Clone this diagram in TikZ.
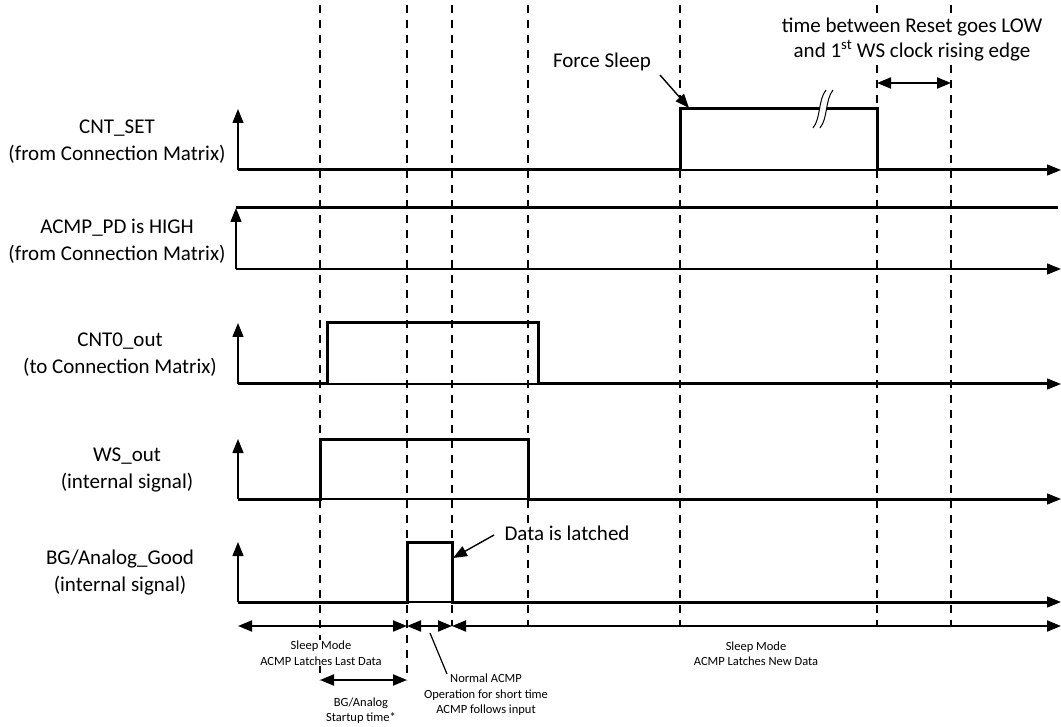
\documentclass[tikz,border=0pt]{standalone}
\usepackage{fontspec}
\setmainfont{Carlito}
\usetikzlibrary{arrows.meta}
\begin{document}
\begin{tikzpicture}[x=1pt,y=-1pt,
  tip/.style={-{Triangle[length=14pt,width=11pt]}},
  sig/.style={line width=3pt, line join=miter},
  axisline/.style={line width=1.4pt, tip},
  guide/.style={line width=2.4pt, dash pattern=on 8pt off 7pt},
  span/.style={line width=2pt,{Triangle[length=14pt,width=11pt]}-{Triangle[length=14pt,width=11pt]}},
  lbl/.style={align=center, font=\fontsize{21}{27}\selectfont, inner sep=0pt},
  note/.style={align=center, font=\fontsize{21}{25}\selectfont, fill=white, inner xsep=2pt, inner ysep=3pt},
  small/.style={align=center, font=\fontsize{12.5}{15.5}\selectfont, fill=white, inner sep=1pt},
  lead/.style={line width=1.4pt, tip},
]
\useasboundingbox (0,0) rectangle (1061,727);

% guide coordinates
\foreach \n/\x/\b in {g1/320/680, g2/407/680, g3/452/626, g4/528/626, g5/680/626, g6/877/626, g7/951/626} {
  \coordinate (\n top) at (\x,5);
  \coordinate (\n bot) at (\x,\b);
  \draw[guide] (\n top) -- (\n bot);
}

% text boxes over guides
\node[note] (tnote) at (912,39.5) {time between Reset goes LOW\\and 1\textsuperscript{st} WS clock rising edge};
\node[small] (sleepA) at (321,653) {Sleep Mode\\ACMP Latches Last Data};
\node[small] (sleepB) at (756,653.5) {Sleep Mode\\ACMP Latches New Data};
\node[small] (startup) at (361,710.5) {BG/Analog\\Startup time*};
\node[small, fill=none] (normal) at (486,695) {Normal ACMP\\Operation for short time\\ACMP follows input};

% signal labels
\node[lbl] (l1) at (117,141.5) {CNT\_SET\\(from Connection Matrix)};
\node[lbl] (l2) at (117,241.5) {ACMP\_PD is HIGH\\(from Connection Matrix)};
\node[lbl] (l3) at (120,354.5) {CNT0\_out\\(to Connection Matrix)};
\node[lbl] (l4) at (127,469.5) {WS\_out\\(internal signal)};
\node[lbl] (l5) at (120,573) {BG/Analog\_Good\\(internal signal)};

% CNT_SET
\coordinate (a1o) at (238,170); \coordinate (a1e) at (1061,170); \coordinate (a1y) at (238,109);
\draw[axisline] (a1o) -- (a1e);
\draw[axisline] (a1o) -- (a1y);
\draw[sig] (238,170) -- (680,170) -- (680,109) -- (877,109) -- (877,170) -- (1049,170);
% break mark
\fill[white] (813,128) .. controls (821,118) and (818,100) .. (826,90) -- (833,90) .. controls (825,100) and (828,118) .. (820,128) -- cycle;
\draw[line width=1pt] (813,128) .. controls (821,118) and (818,100) .. (826,90);
\draw[line width=1pt] (820,128) .. controls (828,118) and (825,100) .. (833,90);

% ACMP_PD
\coordinate (a2o) at (236,269); \coordinate (a2e) at (1061,269); \coordinate (a2y) at (236,208);
\draw[axisline] (a2o) -- (a2e);
\draw[axisline] (a2o) -- (a2y);
\draw[sig] (236,208) -- (1058,208);

% CNT0_out
\coordinate (a3o) at (238,384); \coordinate (a3e) at (1061,384); \coordinate (a3y) at (238,323);
\draw[axisline] (a3o) -- (a3e);
\draw[axisline] (a3o) -- (a3y);
\draw[sig] (238,384) -- (327,384) -- (327,323) -- (538,323) -- (538,384) -- (1049,384);

% WS_out
\coordinate (a4o) at (238,499); \coordinate (a4e) at (1061,499); \coordinate (a4y) at (238,439);
\draw[axisline] (a4o) -- (a4e);
\draw[axisline] (a4o) -- (a4y);
\draw[sig] (238,499) -- (320,499) -- (320,439) -- (528,439) -- (528,499) -- (1049,499);

% BG/Analog_Good
\coordinate (a5o) at (238,602); \coordinate (a5e) at (1061,602); \coordinate (a5y) at (238,542);
\draw[axisline] (a5o) -- (a5e);
\draw[axisline] (a5o) -- (a5y);
\draw[sig] (238,602) -- (407,602) -- (407,542) -- (452,542) -- (452,602) -- (1049,602);

% time line
\coordinate (t0) at (238,626); \coordinate (t1) at (407,626);
\coordinate (t2) at (452,626); \coordinate (t3) at (1061,626);
\draw[span] (t0) -- (t1);
\draw[span] (t1) -- (t2);
\draw[span] (t2) -- (t3);
\coordinate (s0) at (320,680); \coordinate (s1) at (407,680);
\draw[span] (s0) -- (s1);
\draw[line width=1.2pt] (430,633) -- (447,674);

% top interval
\coordinate (r0) at (877,83); \coordinate (r1) at (951,83);
\draw[span] (r0) -- (r1);

% callouts
\node[lbl, fill=white, inner sep=1pt] (fs) at (602,62) {Force Sleep};
\node[lbl, fill=white, inner sep=1pt] (dl) at (567,533) {Data is latched};
\coordinate (fsT) at (689,108);
\coordinate (dlT) at (453,558);
\draw[lead] (660,75) -- (fsT);
\draw[lead] (494,535) -- (dlT);
\end{tikzpicture}
\end{document}
